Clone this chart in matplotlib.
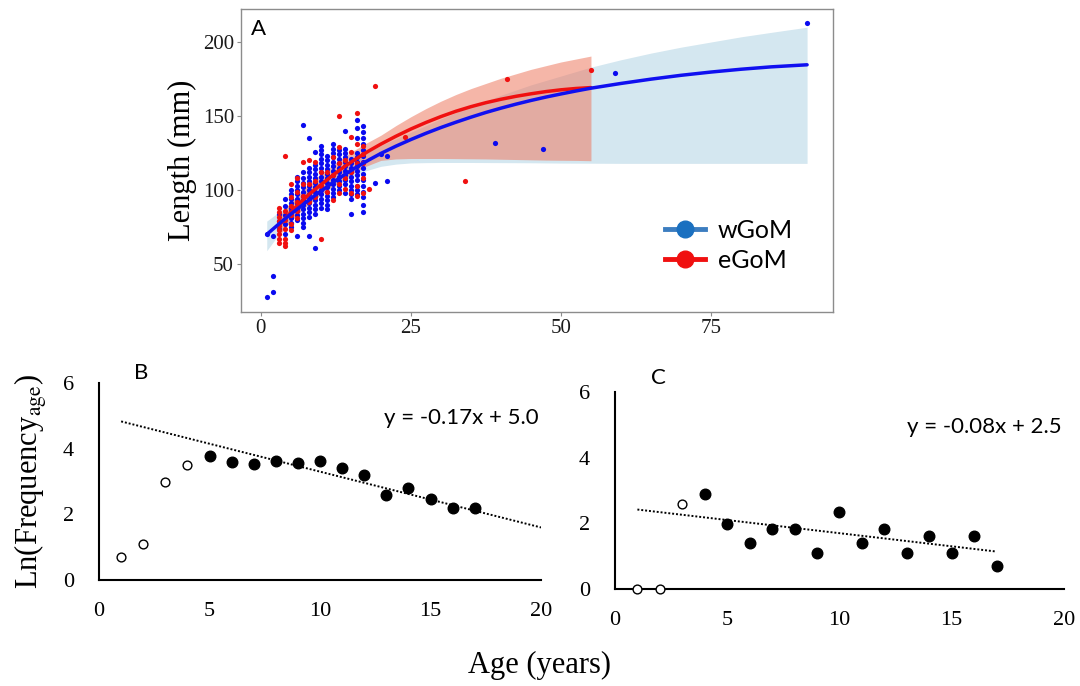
import numpy as np
import matplotlib
matplotlib.use('Agg')
import matplotlib.pyplot as plt
from matplotlib.lines import Line2D

plt.rcParams['font.family'] = ['Liberation Serif', 'DejaVu Serif']
plt.rcParams['mathtext.fontset'] = 'stix'
SANS = ['Lato', 'DejaVu Sans']

## Panel A: length at age, scatter by region (age -> lengths)
west_pts = {
    1: [70, 28], 2: [69, 42, 31], 3: [74, 79, 84],
    4: [70, 77, 83, 89, 94], 5: [75, 78, 81, 84, 86, 88, 91, 94, 97, 100],
    6: [69, 80, 83, 86, 88, 91, 94, 97, 100, 103, 106, 109],
    7: [144, 112, 108, 105, 102, 99, 96, 93, 90, 87, 84, 81, 78, 75],
    8: [135, 115, 112, 109, 106, 103, 100, 97, 94, 91, 88, 85, 82, 69],
    9: [126, 117, 114, 111, 108, 105, 102, 99, 96, 93, 90, 87, 84, 61],
    10: [130, 127, 124, 121, 118, 115, 112, 109, 106, 103, 100, 97, 94, 91, 88],
    11: [123, 120, 117, 114, 111, 108, 105, 102, 99, 96, 93, 90, 87],
    12: [131, 128, 125, 122, 119, 116, 113, 110, 107, 104, 101, 98, 95],
    13: [127, 124, 121, 118, 115, 112, 109, 106, 103, 100],
    14: [140, 128, 125, 122, 119, 116, 113, 110, 107, 104, 98],
    15: [121, 118, 115, 112, 109, 106, 103, 100, 97, 94, 84],
    16: [147, 142, 135, 125, 122, 119, 116, 113, 110, 107, 103, 100, 97],
    17: [143, 139, 135, 131, 127, 123, 119, 115, 111, 107, 103, 99, 95, 90, 85],
    19: [105], 20: [124], 21: [123, 106], 39: [131.5], 47: [127.7], 59: [178.8], 91: [212.6],
}
east_pts = {
    3: [88, 85, 82, 79, 76, 73, 70, 67, 64],
    4: [123, 86, 80, 74, 67, 64, 62],
    5: [104, 95, 89, 83, 77, 73],
    6: [108, 99, 92, 86, 81],
    7: [119, 104, 96],
    8: [120, 104, 92],
    9: [119, 106, 95],
    10: [112, 103, 67],
    11: [112, 99],
    12: [122, 110, 93],
    13: [150, 129, 118, 104, 98],
    14: [120, 108, 101],
    15: [136, 126, 112, 98],
    16: [152, 131, 118, 103, 96],
    17: [130, 124, 118, 108, 98],
    18: [101], 19: [170], 24: [136], 34: [106], 41: [175], 55: [181],
}

## growth curves
west_age = [1, 2, 3, 4, 5, 6, 7, 8, 9, 10, 12, 14, 16, 18, 20, 22.5, 25, 27.5, 30, 32.5, 35, 37.5,
            40, 42.5, 45, 47.5, 50, 52.5, 55, 60, 65, 70, 75, 80, 85, 91]
west_len = [70, 73.5, 77, 80.4, 83.7, 86.9, 90, 93.1, 96.2, 99.2, 105, 110.5, 115.6, 120.3, 124.7,
            129.6, 134.1, 138.3, 142.2, 145.8, 149.2, 152.4, 155.3, 158, 160.5, 162.8, 164.9,
            166.9, 168.8, 172, 174.9, 177.5, 179.7, 181.6, 183.2, 184.6]
east_age = [3, 4, 5, 6, 7, 8, 9, 10, 12, 14, 16, 18, 20, 22.5, 25, 27.5, 30, 32.5, 35, 37.5, 40,
            42.5, 45, 47.5, 50, 52.5, 55]
east_len = [76, 80.5, 84.9, 89.1, 93.1, 96.9, 100.3, 103.5, 110, 116, 121.4, 126.4, 131, 136.3,
            141.2, 145.6, 149.6, 153.2, 156.3, 159, 161.3, 163.3, 165, 166.5, 167.7, 168.6, 169.2]

## confidence ribbons
west_band_age = [1, 3, 5, 7, 10, 12.5, 15, 17.5, 20, 22.5, 25, 27.5, 30, 35, 40, 45, 50, 55, 60,
                 65, 70, 75, 80, 85, 91]
west_band_hi = [79, 85, 91, 97, 106, 113, 119.5, 125, 130, 134.5, 139, 143.5, 148, 156.5, 164, 171,
                177, 183, 188, 192.5, 196.5, 200, 203.5, 206.5, 210]
west_band_lo = [59, 70, 79, 87, 96.5, 103, 108.5, 113, 116, 117.5, 118.3, 118.5, 118.6, 118.6, 118.5,
                118.4, 118.2, 118.1, 118, 118, 118, 118, 118, 118, 118]
east_band_age = [3, 5, 7, 10, 12.5, 15, 17.5, 20, 22.5, 25, 27.5, 30, 32.5, 35, 37.5, 40, 42.5, 45,
                 47.5, 50, 52.5, 55]
east_band_hi = [82, 92, 100, 111, 118.5, 125.5, 131.5, 137, 143.5, 149.5, 155, 160, 164.5, 168.5,
                172, 175.5, 178.5, 181.5, 184, 186.5, 188.5, 190.5]
east_band_lo = [69, 79, 87, 97, 104, 110.5, 116, 120, 121, 121.3, 121.3, 121.3, 121.2, 121.1, 121,
                120.8, 120.6, 120.4, 120.2, 120.1, 120, 119.8]

## Panels B and C: catch curves
ages_b = [1, 2, 3, 4, 5, 6, 7, 8, 9, 10, 11, 12, 13, 14, 15, 16, 17]
lnf_b = [0.69, 1.10, 3.0, 3.5, 3.78, 3.58, 3.52, 3.62, 3.57, 3.62, 3.40, 3.20, 2.58, 2.79, 2.48, 2.20, 2.20]
open_b = 4   # first four ages not used in fit
trend_b_x, trend_b_y = [1, 20], [4.83, 1.60]
eq_b = 'y = -0.17x + 5.0'

ages_c = [1, 2, 3, 4, 5, 6, 7, 8, 9, 10, 11, 12, 13, 14, 15, 16, 17]
lnf_c = [0.0, 0.0, 2.60, 2.88, 1.97, 1.41, 1.82, 1.82, 1.11, 2.33, 1.41, 1.82, 1.11, 1.62, 1.11, 1.62, 0.70]
open_c = 3
trend_c_x, trend_c_y = [1, 17], [2.42, 1.14]
eq_c = 'y = -0.08x + 2.5'

fig = plt.figure(figsize=(10.8, 6.86), dpi=100)

# ---------------- panel A
axA = fig.add_axes([0.2231, 0.5452, 0.5481, 0.4417])
axA.fill_between(west_band_age, west_band_lo, west_band_hi, color='#D4E7F0', lw=0, zorder=1)
axA.fill_between(east_band_age, east_band_lo, east_band_hi, color='#EE7A62', alpha=0.55, lw=0, zorder=2)

wx = [a for a, v in west_pts.items() for _ in v]
wy = [y for v in west_pts.values() for y in v]
ex = [a for a, v in east_pts.items() for _ in v]
ey = [y for v in east_pts.values() for y in v]
axA.scatter(wx, wy, s=14, color='#0A0AF0', lw=0, zorder=3)
axA.scatter(ex, ey, s=14, color='#F01010', lw=0, zorder=4)
axA.plot(west_age, west_len, color='#1010F0', lw=2.5, zorder=6, solid_capstyle='round',
         solid_joinstyle='round')
axA.plot(east_age, east_len, color='#F01010', lw=2.5, zorder=5, solid_capstyle='round',
         solid_joinstyle='round')

axA.set_xlim(-3.3, 95.3)
axA.set_ylim(17.6, 222.3)
axA.set_xticks([0, 25, 50, 75])
axA.set_yticks([50, 100, 150, 200])
for s in axA.spines.values():
    s.set_color('#8C8C8C')
    s.set_linewidth(1.0)
axA.tick_params(colors='#8C8C8C', length=3, width=0.8, labelsize=15, labelcolor='#1A1A1A', pad=2)
axA.set_ylabel('Length (mm)', fontsize=22, labelpad=4)
axA.text(0.017, 0.935, 'A', transform=axA.transAxes, fontsize=16, family=SANS, va='center')

handles = [Line2D([], [], color='#3C7DC0', lw=3.5, marker='o', ms=12, mfc='#1A70C0', mec='#1A70C0'),
           Line2D([], [], color='#F01010', lw=3.5, marker='o', ms=12, mfc='#F01010', mec='#F01010')]
axA.legend(handles, ['wGoM', 'eGoM'], loc='center', bbox_to_anchor=(0.825, 0.22), frameon=False,
           prop={'family': SANS, 'size': 18}, handlelength=1.6, handletextpad=0.5, labelspacing=0.3)

# ---------------- panels B, C
def catch_panel(ax, ages, vals, n_open, tx, ty, eq, tag, tag_y):
    ax.plot(tx, ty, color='black', ls=(0, (1, 1)), lw=1.4, zorder=2)
    ax.scatter(ages[:n_open], vals[:n_open], s=40, facecolor='white', edgecolor='black', lw=1.0, zorder=3,
               clip_on=False)
    ax.scatter(ages[n_open:], vals[n_open:], s=58, color='black', zorder=3, clip_on=False)
    ax.set_xlim(0, 20)
    ax.set_ylim(0, 6)
    ax.set_xticks([0, 5, 10, 15, 20])
    ax.set_yticks([0, 2, 4, 6])
    for side in ['top', 'right']:
        ax.spines[side].set_visible(False)
    for side in ['left', 'bottom']:
        ax.spines[side].set_linewidth(1.5)
    ax.tick_params(length=0, labelsize=16)
    ax.tick_params(axis='x', pad=16)
    ax.tick_params(axis='y', pad=18)
    ax.text(0.995, 0.82, eq, transform=ax.transAxes, ha='right', va='center', fontsize=16, family=SANS)
    ax.text(0.08, tag_y, tag, transform=ax.transAxes, fontsize=16, family=SANS, va='bottom')

axB = fig.add_axes([0.0917, 0.1545, 0.4093, 0.2872])
catch_panel(axB, ages_b, lnf_b, open_b, trend_b_x, trend_b_y, eq_b, 'B', 1.0)
axB.set_ylabel('Ln(Frequency$_{\\mathrm{age}}$)', fontsize=22, labelpad=10)

axC = fig.add_axes([0.5694, 0.1414, 0.4157, 0.2872])
catch_panel(axC, ages_c, lnf_c, open_c, trend_c_x, trend_c_y, eq_c, 'C', 1.02)

fig.text(0.5, 0.03, 'Age (years)', ha='center', va='center', fontsize=22)

fig.savefig('out.png', dpi=100)
